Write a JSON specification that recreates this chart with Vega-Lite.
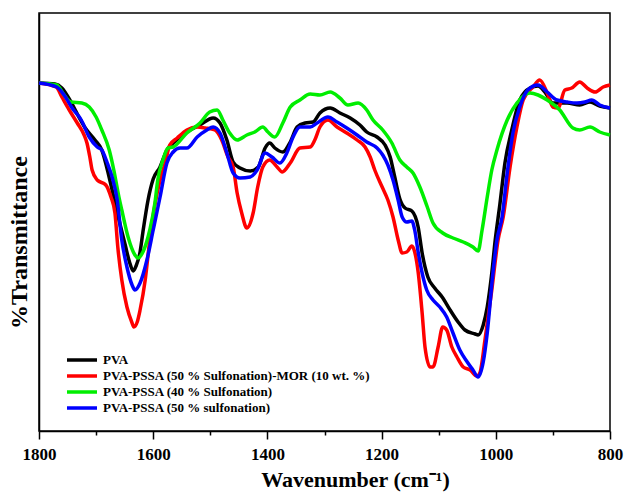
{
"$schema": "https://vega.github.io/schema/vega-lite/v6.json",
"autosize": {"type": "none"},
"padding": {"left": 39, "top": 13, "right": 15, "bottom": 61},
"width": 571,
"height": 418,
"config": {
"view": {"stroke": "#000000", "strokeWidth": 1.5},
"font": "Liberation Serif",
"axis": {"labelFont": "Liberation Serif", "titleFont": "Liberation Serif", "labelFontWeight": "bold", "titleFontWeight": "bold", "labelColor": "#000000", "titleColor": "#000000", "domainColor": "#000000", "tickColor": "#000000", "grid": false, "domainWidth": 1.5, "tickWidth": 1.5},
"legend": {"labelFont": "Liberation Serif", "labelFontWeight": "bold", "labelColor": "#000000"}
},
"datasets": {
"pva": [{"w":1800,"t":348},{"w":1772,"t":347},{"w":1760,"t":343},{"w":1746,"t":331},{"w":1732,"t":316},{"w":1719,"t":303},{"w":1702,"t":291},{"w":1690,"t":281},{"w":1676,"t":251},{"w":1662,"t":216},{"w":1649,"t":186},{"w":1641,"t":168},{"w":1635,"t":160},{"w":1630,"t":165},{"w":1623,"t":179},{"w":1618,"t":199},{"w":1609,"t":231},{"w":1600,"t":252},{"w":1588,"t":264},{"w":1576,"t":281},{"w":1565,"t":288},{"w":1544,"t":298},{"w":1518,"t":306},{"w":1495,"t":313},{"w":1483,"t":308},{"w":1471,"t":291},{"w":1460,"t":269},{"w":1448,"t":263},{"w":1430,"t":260},{"w":1416,"t":264},{"w":1404,"t":283},{"w":1396,"t":288},{"w":1387,"t":283},{"w":1373,"t":279},{"w":1360,"t":289},{"w":1348,"t":304},{"w":1334,"t":308},{"w":1320,"t":309},{"w":1308,"t":318},{"w":1290,"t":323},{"w":1273,"t":318},{"w":1255,"t":313},{"w":1238,"t":306},{"w":1226,"t":299},{"w":1208,"t":294},{"w":1194,"t":286},{"w":1185,"t":274},{"w":1177,"t":254},{"w":1168,"t":232},{"w":1159,"t":223},{"w":1147,"t":220},{"w":1136,"t":204},{"w":1129,"t":178},{"w":1119,"t":154},{"w":1107,"t":143},{"w":1094,"t":134},{"w":1080,"t":121},{"w":1066,"t":109},{"w":1054,"t":101},{"w":1036,"t":97},{"w":1031,"t":96},{"w":1022,"t":106},{"w":1015,"t":124},{"w":1007,"t":158},{"w":1001,"t":191},{"w":993,"t":226},{"w":984,"t":268},{"w":972,"t":301},{"w":958,"t":331},{"w":940,"t":343},{"w":926,"t":345},{"w":914,"t":339},{"w":900,"t":328},{"w":875,"t":328},{"w":853,"t":326},{"w":835,"t":329},{"w":818,"t":325},{"w":800,"t":323}],
"mor": [{"w":1800,"t":348},{"w":1770,"t":344},{"w":1760,"t":334},{"w":1747,"t":321},{"w":1733,"t":308},{"w":1721,"t":296},{"w":1716,"t":288},{"w":1711,"t":274},{"w":1707,"t":261},{"w":1698,"t":251},{"w":1683,"t":246},{"w":1674,"t":234},{"w":1667,"t":218},{"w":1662,"t":184},{"w":1655,"t":151},{"w":1646,"t":124},{"w":1637,"t":108},{"w":1634,"t":104},{"w":1628,"t":109},{"w":1623,"t":121},{"w":1614,"t":151},{"w":1606,"t":191},{"w":1597,"t":226},{"w":1588,"t":251},{"w":1579,"t":268},{"w":1571,"t":286},{"w":1558,"t":293},{"w":1541,"t":301},{"w":1523,"t":304},{"w":1509,"t":303},{"w":1492,"t":301},{"w":1480,"t":291},{"w":1469,"t":274},{"w":1460,"t":264},{"w":1453,"t":238},{"w":1445,"t":218},{"w":1436,"t":203},{"w":1425,"t":218},{"w":1417,"t":244},{"w":1408,"t":264},{"w":1396,"t":271},{"w":1383,"t":264},{"w":1374,"t":259},{"w":1360,"t":268},{"w":1343,"t":283},{"w":1325,"t":284},{"w":1317,"t":291},{"w":1308,"t":304},{"w":1294,"t":311},{"w":1278,"t":304},{"w":1261,"t":298},{"w":1243,"t":291},{"w":1229,"t":284},{"w":1220,"t":274},{"w":1212,"t":261},{"w":1199,"t":244},{"w":1189,"t":231},{"w":1180,"t":214},{"w":1171,"t":191},{"w":1164,"t":178},{"w":1156,"t":179},{"w":1147,"t":185},{"w":1142,"t":179},{"w":1136,"t":159},{"w":1129,"t":118},{"w":1124,"t":84},{"w":1115,"t":64},{"w":1110,"t":64},{"w":1101,"t":84},{"w":1093,"t":104},{"w":1086,"t":101},{"w":1077,"t":84},{"w":1068,"t":74},{"w":1057,"t":64},{"w":1045,"t":61},{"w":1033,"t":55},{"w":1028,"t":58},{"w":1019,"t":91},{"w":1007,"t":141},{"w":996,"t":191},{"w":987,"t":214},{"w":975,"t":264},{"w":963,"t":304},{"w":952,"t":331},{"w":935,"t":344},{"w":923,"t":351},{"w":910,"t":338},{"w":900,"t":324},{"w":891,"t":323},{"w":879,"t":341},{"w":867,"t":343},{"w":853,"t":349},{"w":840,"t":343},{"w":826,"t":339},{"w":812,"t":344},{"w":800,"t":346}],
"s40": [{"w":1800,"t":348},{"w":1769,"t":346},{"w":1756,"t":336},{"w":1744,"t":329},{"w":1725,"t":328},{"w":1712,"t":324},{"w":1700,"t":314},{"w":1690,"t":301},{"w":1677,"t":281},{"w":1669,"t":261},{"w":1660,"t":234},{"w":1655,"t":221},{"w":1644,"t":194},{"w":1632,"t":176},{"w":1627,"t":173},{"w":1618,"t":179},{"w":1606,"t":201},{"w":1597,"t":228},{"w":1592,"t":251},{"w":1583,"t":271},{"w":1574,"t":283},{"w":1565,"t":284},{"w":1541,"t":298},{"w":1518,"t":308},{"w":1501,"t":319},{"w":1488,"t":321},{"w":1478,"t":311},{"w":1466,"t":298},{"w":1453,"t":291},{"w":1436,"t":296},{"w":1422,"t":299},{"w":1408,"t":304},{"w":1399,"t":299},{"w":1387,"t":294},{"w":1373,"t":308},{"w":1360,"t":324},{"w":1343,"t":331},{"w":1325,"t":337},{"w":1308,"t":336},{"w":1290,"t":339},{"w":1273,"t":333},{"w":1259,"t":326},{"w":1241,"t":328},{"w":1226,"t":321},{"w":1215,"t":311},{"w":1198,"t":301},{"w":1182,"t":288},{"w":1168,"t":271},{"w":1156,"t":264},{"w":1145,"t":258},{"w":1133,"t":244},{"w":1120,"t":224},{"w":1110,"t":208},{"w":1093,"t":198},{"w":1075,"t":193},{"w":1057,"t":189},{"w":1040,"t":184},{"w":1031,"t":180},{"w":1024,"t":201},{"w":1015,"t":234},{"w":1007,"t":261},{"w":998,"t":281},{"w":980,"t":311},{"w":963,"t":328},{"w":940,"t":338},{"w":926,"t":336},{"w":910,"t":331},{"w":888,"t":321},{"w":865,"t":303},{"w":853,"t":301},{"w":835,"t":304},{"w":818,"t":299},{"w":800,"t":296}],
"s50": [{"w":1800,"t":348},{"w":1769,"t":344},{"w":1756,"t":336},{"w":1742,"t":323},{"w":1726,"t":311},{"w":1712,"t":294},{"w":1698,"t":284},{"w":1690,"t":281},{"w":1681,"t":269},{"w":1672,"t":254},{"w":1663,"t":231},{"w":1655,"t":191},{"w":1646,"t":164},{"w":1637,"t":146},{"w":1632,"t":141},{"w":1623,"t":148},{"w":1611,"t":171},{"w":1600,"t":201},{"w":1588,"t":234},{"w":1576,"t":268},{"w":1565,"t":279},{"w":1553,"t":283},{"w":1541,"t":283},{"w":1523,"t":294},{"w":1506,"t":301},{"w":1495,"t":304},{"w":1483,"t":298},{"w":1471,"t":278},{"w":1460,"t":258},{"w":1448,"t":253},{"w":1430,"t":254},{"w":1418,"t":261},{"w":1404,"t":278},{"w":1392,"t":274},{"w":1378,"t":268},{"w":1366,"t":278},{"w":1355,"t":294},{"w":1343,"t":304},{"w":1325,"t":304},{"w":1313,"t":308},{"w":1294,"t":314},{"w":1278,"t":309},{"w":1261,"t":303},{"w":1243,"t":296},{"w":1226,"t":289},{"w":1208,"t":283},{"w":1198,"t":276},{"w":1189,"t":266},{"w":1180,"t":251},{"w":1171,"t":231},{"w":1164,"t":214},{"w":1156,"t":209},{"w":1147,"t":210},{"w":1142,"t":201},{"w":1136,"t":179},{"w":1129,"t":158},{"w":1121,"t":141},{"w":1110,"t":131},{"w":1098,"t":124},{"w":1086,"t":114},{"w":1075,"t":98},{"w":1063,"t":81},{"w":1050,"t":69},{"w":1040,"t":61},{"w":1031,"t":54},{"w":1022,"t":69},{"w":1015,"t":98},{"w":1005,"t":158},{"w":998,"t":191},{"w":989,"t":214},{"w":980,"t":258},{"w":970,"t":298},{"w":958,"t":324},{"w":944,"t":341},{"w":926,"t":346},{"w":910,"t":339},{"w":893,"t":331},{"w":875,"t":329},{"w":858,"t":328},{"w":844,"t":329},{"w":832,"t":331},{"w":818,"t":326},{"w":800,"t":323}]
},
"encoding": {
"x": {"field": "w", "type": "quantitative", "scale": {"domain": [800, 1800], "reverse": true, "nice": false, "zero": false},
"axis": {"values": [800, 900, 1000, 1100, 1200, 1300, 1400, 1500, 1600, 1700, 1800], "format": "d", "labelExpr": "datum.value % 200 === 0 ? datum.label : ''", "tickSize": {"condition": {"test": "datum.value % 200 === 0", "value": 8}, "value": 4}, "labelFontSize": 17, "labelPadding": 7, "labelFlush": false, "labelOverlap": false, "title": "Wavenumber (cm⁻¹)", "titleFontSize": 22, "titlePadding": 7, "titleX": 316}},
"y": {"field": "t", "type": "quantitative", "scale": {"domain": [0, 418], "nice": false, "zero": false}, "axis": {"title": "%Transmittance", "labels": false, "ticks": false, "titleFontSize": 24, "titlePadding": 8, "titleY": 229}},
"color": {"scale": {"domain": ["PVA", "PVA-PSSA (50 % Sulfonation)-MOR (10 wt. %)", "PVA-PSSA (40 % Sulfonation)", "PVA-PSSA (50 % sulfonation)"], "range": ["#000000", "#ff0000", "#00ee00", "#0000ff"]},
"legend": {"title": null, "orient": "none", "legendX": 36, "legendY": 340, "symbolType": "M-3,0H3", "symbolSize": 100, "symbolStrokeWidth": 3.5, "labelFontSize": 13, "labelLimit": 0, "rowPadding": 2, "labelOffset": 14, "padding": 0}}
},
"layer": [
{"data": {"name": "pva"}, "mark": {"type": "line", "interpolate": "monotone", "strokeWidth": 3.5}, "encoding": {"color": {"datum": "PVA"}}},
{"data": {"name": "mor"}, "mark": {"type": "line", "interpolate": "monotone", "strokeWidth": 3.5}, "encoding": {"color": {"datum": "PVA-PSSA (50 % Sulfonation)-MOR (10 wt. %)"}}},
{"data": {"name": "s40"}, "mark": {"type": "line", "interpolate": "monotone", "strokeWidth": 3.5}, "encoding": {"color": {"datum": "PVA-PSSA (40 % Sulfonation)"}}},
{"data": {"name": "s50"}, "mark": {"type": "line", "interpolate": "monotone", "strokeWidth": 3.5}, "encoding": {"color": {"datum": "PVA-PSSA (50 % sulfonation)"}}}
]
}
